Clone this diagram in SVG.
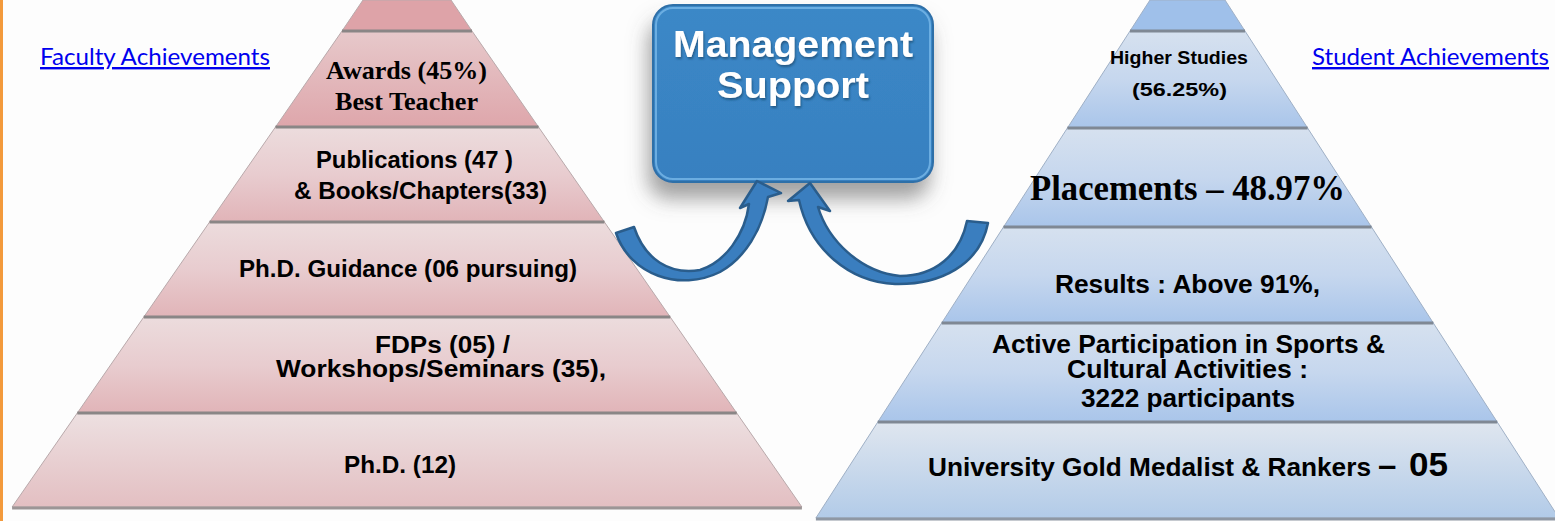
<svg xmlns="http://www.w3.org/2000/svg" width="1555" height="521" viewBox="0 0 1555 521">
<defs>
<style>
.t{font-family:"Liberation Sans",Arial,sans-serif;font-weight:bold;fill:#000;}
.tr{font-family:"Liberation Serif","Times New Roman",serif;font-weight:bold;fill:#000;}
.lnk{font-family:Lato,"Liberation Sans",sans-serif;font-size:24px;fill:#0000ee;text-decoration:underline;}
.sep{stroke:#8a8686;stroke-width:3;}
.sepb{stroke:#7f8894;stroke-width:3;}
.pk{stroke:#b9a9ab;stroke-width:1;}
.bl{stroke:#9fb0c6;stroke-width:1;}
.arrow{fill:#3a7ebf;stroke:#2a5d8c;stroke-width:2.5;stroke-linejoin:round;}
.wt{font-family:"Liberation Sans",Arial,sans-serif;font-weight:bold;font-size:36px;fill:#fff;}
</style>
<linearGradient id="pinkA" x1="0" y1="0" x2="0" y2="1"><stop offset="0" stop-color="#e7c9cb"/><stop offset="1" stop-color="#dea6ab"/></linearGradient>
<linearGradient id="pink" x1="0" y1="0" x2="0" y2="1"><stop offset="0" stop-color="#ecdcdd"/><stop offset="0.5" stop-color="#e8cccf"/><stop offset="1" stop-color="#e1b4b8"/></linearGradient>
<linearGradient id="pinkL" x1="0" y1="0" x2="0" y2="1"><stop offset="0" stop-color="#ede0e1"/><stop offset="1" stop-color="#e3bfc2"/></linearGradient>
<linearGradient id="blue" x1="0" y1="0" x2="0" y2="1"><stop offset="0" stop-color="#d6e1ef"/><stop offset="0.5" stop-color="#c6d7ee"/><stop offset="1" stop-color="#a9c5ea"/></linearGradient>
<linearGradient id="blueL" x1="0" y1="0" x2="0" y2="1"><stop offset="0" stop-color="#dfe6ef"/><stop offset="1" stop-color="#b2cbe8"/></linearGradient>
<linearGradient id="boxg" x1="0" y1="0" x2="0" y2="1"><stop offset="0" stop-color="#3b88c7"/><stop offset="1" stop-color="#3880c0"/></linearGradient>
<filter id="shadow" x="-30%" y="-30%" width="160%" height="170%"><feDropShadow dx="-4" dy="16" stdDeviation="10" flood-color="#555" flood-opacity="0.55"/></filter>
<filter id="tsh" x="-10%" y="-20%" width="120%" height="150%"><feDropShadow dx="1" dy="2" stdDeviation="1" flood-color="#163a5a" flood-opacity="0.6"/></filter>
</defs>
<rect x="0" y="0" width="1555" height="521" fill="#fdfdfd"/>
<rect x="0" y="0" width="3" height="521" fill="#f39a3c"/>

<g id="faculty-link"><text class="lnk" x="40" y="65" textLength="230" lengthAdjust="spacingAndGlyphs">Faculty Achievements</text></g>
<g id="student-link"><text class="lnk" x="1312" y="65" textLength="237" lengthAdjust="spacingAndGlyphs">Student Achievements</text></g>

<g id="faculty-pyramid">
<g id="f-top"><polygon class="pk" points="363,0 451,0 472,31 342,31" fill="#dea3a8"/></g>
<g id="f-awards"><polygon class="pk" points="342,31 472,31 538.5,127 275.5,127" fill="url(#pinkA)"/>
<text class="tr" x="326" y="79" font-size="25" textLength="161" lengthAdjust="spacingAndGlyphs">Awards (45%)</text>
<text class="tr" x="335" y="110" font-size="25" textLength="143" lengthAdjust="spacingAndGlyphs">Best Teacher</text></g>
<g id="f-publications"><polygon class="pk" points="275.5,127 538.5,127 604.4,222 209.6,222" fill="url(#pink)"/>
<text class="t" x="316" y="168" font-size="24" textLength="197" lengthAdjust="spacingAndGlyphs">Publications (47 )</text>
<text class="t" x="294" y="199" font-size="24" textLength="253" lengthAdjust="spacingAndGlyphs">&amp; Books/Chapters(33)</text></g>
<g id="f-guidance"><polygon class="pk" points="209.6,222 604.4,222 670.2,317 143.8,317" fill="url(#pink)"/>
<text class="t" x="239" y="277" font-size="24" textLength="338" lengthAdjust="spacingAndGlyphs">Ph.D. Guidance (06 pursuing)</text></g>
<g id="f-fdps"><polygon class="pk" points="143.8,317 670.2,317 736.7,413 77.3,413" fill="url(#pink)"/>
<text class="t" x="375" y="353" font-size="24" textLength="135" lengthAdjust="spacingAndGlyphs">FDPs (05) /</text>
<text class="t" x="276" y="377" font-size="24" textLength="330" lengthAdjust="spacingAndGlyphs">Workshops/Seminars (35),</text></g>
<g id="f-phd"><polygon class="pk" points="77.3,413 736.7,413 801.9,507 12.1,507" fill="url(#pinkL)"/>
<text class="t" x="344" y="473" font-size="24" textLength="112" lengthAdjust="spacingAndGlyphs">Ph.D. (12)</text></g>
<line class="sep" x1="342" y1="31" x2="472" y2="31"/>
<line class="sep" x1="275.5" y1="127" x2="538.5" y2="127"/>
<line class="sep" x1="209.6" y1="222" x2="604.4" y2="222"/>
<line class="sep" x1="143.8" y1="317" x2="670.2" y2="317"/>
<line class="sep" x1="77.3" y1="413" x2="736.7" y2="413"/>
<line x1="12.1" y1="508" x2="801.9" y2="508" stroke="#9c9596" stroke-width="3"/>
</g>

<g id="student-pyramid">
<g id="s-top"><polygon class="bl" points="1150,0 1225,0 1245,31 1130,31" fill="#9fc0ea"/></g>
<g id="s-higher"><polygon class="bl" points="1130,31 1245,31 1307.6,128 1067.4,128" fill="url(#blue)"/>
<text class="t" x="1110" y="64" font-size="18" textLength="138" lengthAdjust="spacingAndGlyphs">Higher Studies</text>
<text class="t" x="1132" y="96" font-size="19" textLength="95" lengthAdjust="spacingAndGlyphs">(56.25%)</text></g>
<g id="s-placements"><polygon class="bl" points="1067.4,128 1307.6,128 1371.5,227 1003.5,227" fill="url(#blue)"/>
<text class="tr" x="1030" y="200" font-size="35" textLength="315" lengthAdjust="spacingAndGlyphs">Placements – 48.97%</text></g>
<g id="s-results"><polygon class="bl" points="1003.5,227 1371.5,227 1433.3,323 941.7,323" fill="url(#blue)"/>
<text class="t" x="1055" y="293" font-size="26" textLength="265" lengthAdjust="spacingAndGlyphs">Results : Above 91%,</text></g>
<g id="s-sports"><polygon class="bl" points="941.7,323 1433.3,323 1497.2,422 877.8,422" fill="url(#blue)"/>
<text class="t" x="992" y="353" font-size="25" textLength="393" lengthAdjust="spacingAndGlyphs">Active Participation in Sports &amp;</text>
<text class="t" x="1067" y="378" font-size="25" textLength="241" lengthAdjust="spacingAndGlyphs">Cultural Activities :</text>
<text class="t" x="1081" y="407" font-size="26" textLength="214" lengthAdjust="spacingAndGlyphs">3222 participants</text></g>
<g id="s-gold"><polygon class="bl" points="877.8,422 1497.2,422 1559,518 815.9,518" fill="url(#blueL)"/>
<text class="t" x="928" y="476" font-size="26" textLength="443" lengthAdjust="spacingAndGlyphs">University Gold Medalist &amp; Rankers</text>
<text class="t" x="1378" y="476" font-size="33">–</text>
<text class="t" x="1409" y="476" font-size="33" textLength="39" lengthAdjust="spacingAndGlyphs">05</text></g>
<line class="sepb" x1="1130" y1="31" x2="1245" y2="31"/>
<line class="sepb" x1="1067.4" y1="128" x2="1307.6" y2="128"/>
<line class="sepb" x1="1003.5" y1="227" x2="1371.5" y2="227"/>
<line class="sepb" x1="941.7" y1="323" x2="1433.3" y2="323"/>
<line class="sepb" x1="877.8" y1="422" x2="1497.2" y2="422"/>
<line x1="815.9" y1="519" x2="1559" y2="519" stroke="#8f98a4" stroke-width="3"/>
</g>

<g id="management-support">
<rect x="653" y="5" width="280" height="177" rx="20" fill="url(#boxg)" stroke="#2f6fa8" stroke-width="2" filter="url(#shadow)"/>
<rect x="656" y="8" width="274" height="171" rx="17" fill="none" stroke="#78b8e8" stroke-width="2" stroke-opacity="0.8"/>
<g filter="url(#tsh)">
<text class="wt" x="673" y="57" textLength="240" lengthAdjust="spacingAndGlyphs">Management</text>
<text class="wt" x="717" y="98" textLength="152" lengthAdjust="spacingAndGlyphs">Support</text>
</g>
</g>

<g id="connectors">
<path class="arrow" d="M616,233 C630,275 680,292 720,272 C745,258 762,230 768,197 L781,193 L757,181 L740,208 L749,204 C745,235 725,262 700,270 C670,275 645,260 634,227 Z"/>
<path class="arrow" d="M988,223 C980,265 940,285 895,284 C850,282 810,250 799,200 L788,201 L810,183 L830,211 L818,207 C828,240 860,272 900,276 C935,276 960,255 967,221 Z"/>
</g>
</svg>
